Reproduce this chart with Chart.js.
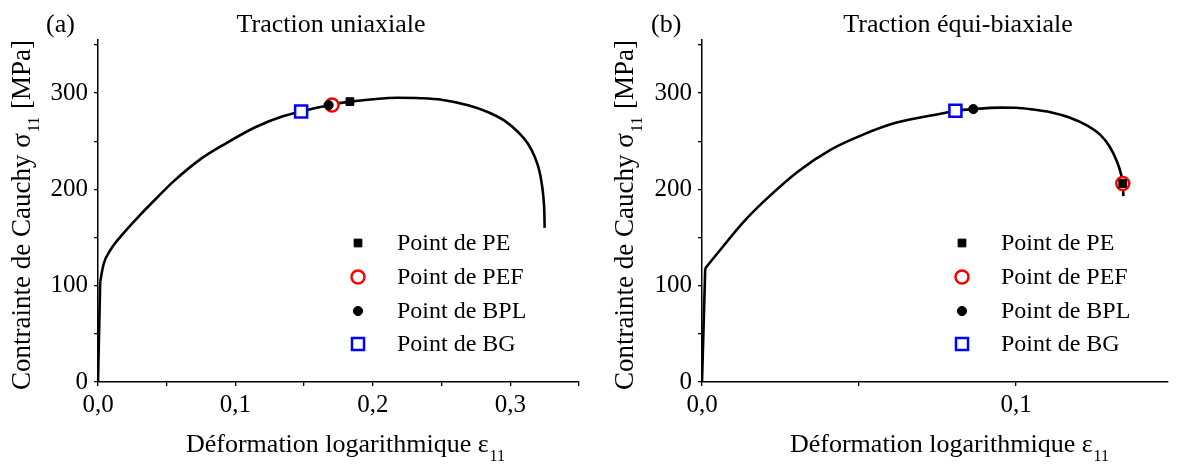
<!DOCTYPE html>
<html>
<head>
<meta charset="utf-8">
<script src="https://cdn.jsdelivr.net/npm/chart.js@4"></script>
<style>
  body { margin: 0; background: #fff; }
  #wrap { position: relative; width: 1179px; height: 466px; overflow: hidden; }
  .box { position: absolute; top: 0; width: 590px; height: 466px; }
</style>
</head>
<body>
<div id="wrap">
  <div class="box" style="left:0"><canvas id="chartA" width="590" height="466"></canvas></div>
  <div class="box" style="left:589px"><canvas id="chartB" width="590" height="466"></canvas></div>
</div>
<script>
// (a) Traction uniaxiale
// partie elastique (droite) puis partie plastique
var elasticStrainA = [0, 0.0016];
var elasticStressA = [0, 104];
var strainA = [0.0016, 0.004, 0.009, 0.0186, 0.0307, 0.0427, 0.0548, 0.0741, 0.091, 0.1152, 0.1345, 0.1478, 0.1678, 0.1833, 0.20, 0.218, 0.235, 0.25, 0.27, 0.284, 0.296, 0.306, 0.313, 0.318, 0.321, 0.323, 0.3242, 0.3248, 0.325];
var stressA = [104, 122, 137, 154.5, 173.5, 191, 208, 230.8, 246, 265, 275.8, 280.8, 287.3, 291, 293.5, 295, 294.6, 293, 287, 280, 271, 259, 247, 233, 220, 205, 190, 175, 160];

// (b) Traction equi-biaxiale
var elasticStrainB = [0, 0.00103];
var elasticStressB = [0, 118];
var strainB = [0.00103, 0.0067, 0.0129, 0.0202, 0.0306, 0.0409, 0.0513, 0.0617, 0.0772, 0.0807, 0.0864, 0.095, 0.1, 0.105, 0.111, 0.117, 0.1227, 0.127, 0.1297, 0.132, 0.1335, 0.134, 0.1342];
var stressB = [118, 140.7, 165, 189, 218.6, 241, 256.8, 269, 279.3, 281.5, 283.3, 284.8, 284.6, 283, 280, 274.5, 266, 256, 245, 230, 215, 206, 193];

// points caracteristiques (PE, PEF, BPL, BG)
var markerLabels = ['Point de PE', 'Point de PEF', 'Point de BPL', 'Point de BG'];
var markerStrainA = [0.1833, 0.1703, 0.1678, 0.1478];
var markerStressA = [291, 287.6, 287.3, 280.8];
var markerStrainB = [0.134, 0.134, 0.0864, 0.0807];
var markerStressB = [206, 206, 283.3, 281.5];

// ticks
var xTicksA = [0, 0.05, 0.1, 0.15, 0.2, 0.25, 0.3, 0.35];
var xTicksB = [0, 0.05, 0.1];
var yTicks = [0, 50, 100, 150, 200, 250, 300, 350];

var serif = '"Liberation Serif", "Times New Roman", serif';

var markerStyles = [
  { pointStyle: 'rect', radius: 5.5, backgroundColor: '#000', borderColor: '#000', borderWidth: 1, order: 0 },
  { pointStyle: 'circle', radius: 6.5, backgroundColor: '#fff', borderColor: '#ff0000', borderWidth: 2.5, order: 2 },
  { pointStyle: 'circle', radius: 4.6, backgroundColor: '#000', borderColor: '#000', borderWidth: 1, order: 1 },
  { pointStyle: 'rect', radius: 8.5, backgroundColor: '#fff', borderColor: '#0000ff', borderWidth: 2.5, order: 3 }
];

function toPts(xs, ys) {
  return xs.map(function (x, i) { return { x: x, y: ys[i] }; });
}

function drawMarker(ctx, st, x, y) {
  ctx.save();
  ctx.lineWidth = st.borderWidth;
  ctx.strokeStyle = st.borderColor;
  ctx.fillStyle = st.backgroundColor;
  ctx.beginPath();
  if (st.pointStyle === 'rect') {
    var s = st.radius * Math.SQRT1_2;
    ctx.rect(x - s, y - s, 2 * s, 2 * s);
  } else {
    ctx.arc(x, y, st.radius, 0, 2 * Math.PI);
  }
  ctx.fill();
  ctx.stroke();
  ctx.restore();
}

// text with a lowered "11" subscript, centred on x
function drawSub(ctx, parts, x, y, size) {
  var sub = Math.round(size * 0.6);
  ctx.font = size + 'px ' + serif;
  var w0 = ctx.measureText(parts[0]).width;
  ctx.font = sub + 'px ' + serif;
  var w1 = ctx.measureText(parts[1]).width;
  ctx.font = size + 'px ' + serif;
  var w2 = ctx.measureText(parts[2]).width;
  var start = x - (w0 + w1 + w2) / 2;
  ctx.textAlign = 'left';
  ctx.textBaseline = 'alphabetic';
  ctx.fillText(parts[0], start, y);
  ctx.font = sub + 'px ' + serif;
  ctx.fillText(parts[1], start + w0 + 1, y + size * 0.33);
  ctx.font = size + 'px ' + serif;
  ctx.fillText(parts[2], start + w0 + w1 + 2, y);
}

var paperText = {
  id: 'paperText',
  afterDraw: function (chart, args, o) {
    var ctx = chart.ctx;
    ctx.save();
    ctx.fillStyle = '#000';
    ctx.textBaseline = 'alphabetic';
    ctx.font = '26px ' + serif;
    ctx.textAlign = 'left';
    ctx.fillText(o.tag, o.tagX, 32);
    ctx.textAlign = 'center';
    ctx.fillText(o.title, o.titleX, 32);

    // axis titles
    drawSub(ctx, ['Déformation logarithmique ε', '11', ''], o.xTitleX, 452, 26);
    ctx.save();
    ctx.translate(o.yTitleX, 216);
    ctx.rotate(-Math.PI / 2);
    drawSub(ctx, ['Contrainte de Cauchy σ', '11', ' [MPa]'], 0, 0, 27);
    ctx.restore();

    // legend
    var rows = [243, 277, 311, 344];
    ctx.font = '24px ' + serif;
    ctx.textAlign = 'left';
    ctx.textBaseline = 'middle';
    markerLabels.forEach(function (lab, i) {
      drawMarker(ctx, markerStyles[i], o.legMarkX, rows[i]);
      ctx.fillStyle = '#000';
      ctx.fillText(lab, o.legTextX, rows[i] + 1);
    });
    ctx.restore();
  }
};

function makeChart(id, ex, ey, xs, ys, mx, my, xTicks, xMax, yWidth, padRight, text) {
  var datasets = markerLabels.map(function (lab, i) {
    var st = markerStyles[i];
    return {
      label: lab,
      data: [{ x: mx[i], y: my[i] }],
      showLine: false,
      pointStyle: st.pointStyle,
      pointRadius: st.radius,
      pointBackgroundColor: st.backgroundColor,
      pointBorderColor: st.borderColor,
      pointBorderWidth: st.borderWidth,
      order: st.order
    };
  });
  datasets.push({
    label: 'elastique',
    data: toPts(ex, ey),
    showLine: true,
    borderColor: '#000',
    borderWidth: 2.6,
    pointRadius: 0,
    order: 10
  });
  datasets.push({
    label: 'plastique',
    data: toPts(xs, ys),
    showLine: true,
    borderColor: '#000',
    borderWidth: 2.6,
    pointRadius: 0,
    cubicInterpolationMode: 'monotone',
    order: 11
  });

  return new Chart(document.getElementById(id), {
    type: 'scatter',
    data: { datasets: datasets },
    options: {
      responsive: false,
      animation: false,
      events: [],
      layout: { padding: { top: 40, right: padRight, left: 0, bottom: 0 } },
      plugins: {
        legend: { display: false },
        tooltip: { enabled: false },
        paperText: text
      },
      scales: {
        x: {
          type: 'linear',
          min: 0,
          max: xMax,
          afterBuildTicks: function (s) { s.ticks = xTicks.map(function (v) { return { value: v }; }); },
          afterFit: function (s) { s.height = 84; },
          border: { display: true, color: '#000', width: 1.5 },
          grid: { display: true, drawOnChartArea: false, drawTicks: true, tickLength: 4, color: '#000', lineWidth: 1.3 },
          ticks: {
            autoSkip: false,
            maxRotation: 0,
            padding: 4,
            color: '#000',
            font: { family: serif, size: 25 },
            callback: function (v) {
              var k = Math.round(v * 20);
              return (k % 2 === 0) ? (v.toFixed(1).replace('.', ',')) : '';
            }
          }
        },
        y: {
          min: 0,
          max: 355,
          afterBuildTicks: function (s) { s.ticks = yTicks.map(function (v) { return { value: v }; }); },
          afterFit: function (s) { s.width = yWidth; },
          border: { display: true, color: '#000', width: 1.5 },
          grid: { display: true, drawOnChartArea: false, drawTicks: true, tickLength: 4, color: '#000', lineWidth: 1.3 },
          ticks: {
            autoSkip: false,
            padding: 6,
            color: '#000',
            font: { family: serif, size: 25 },
            callback: function (v) { return (v % 100 === 0) ? String(v) : ''; }
          }
        }
      }
    },
    plugins: [paperText]
  });
}

makeChart('chartA', elasticStrainA, elasticStressA, strainA, stressA, markerStrainA, markerStressA, xTicksA, 0.35, 98, 7,
  { tag: '(a)', tagX: 46, title: 'Traction uniaxiale', titleX: 331, xTitleX: 345, yTitleX: 30, legMarkX: 358, legTextX: 397 });
makeChart('chartB', elasticStrainB, elasticStressB, strainB, stressB, markerStrainB, markerStressB, xTicksB, 0.1484, 113, 0,
  { tag: '(b)', tagX: 62, title: 'Traction équi-biaxiale', titleX: 369, xTitleX: 360, yTitleX: 44, legMarkX: 373, legTextX: 412 });
</script>
</body>
</html>
